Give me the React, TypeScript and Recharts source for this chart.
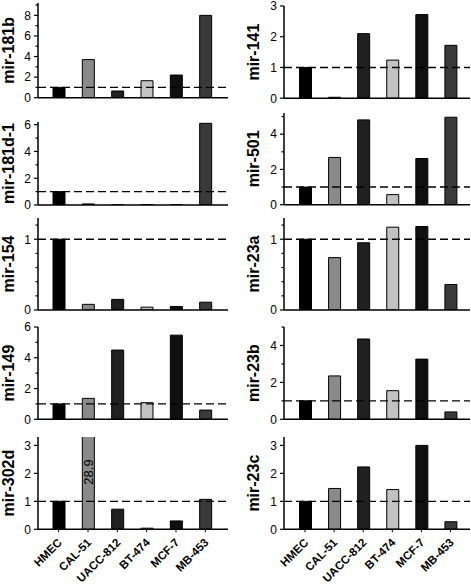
import React from 'react';
import { BarChart, Bar, XAxis, YAxis, Cell, ReferenceLine, LabelList } from 'recharts';

// cell lines, same order in every panel
const CELLS = ['HMEC', 'CAL-51', 'UACC-812', 'BT-474', 'MCF-7', 'MB-453'];

// relative expression
const MIR_181B = [1, 3.7, 0.65, 1.65, 2.2, 8.0];
const MIR_181D1 = [1, 0.08, 0.01, 0.03, 0.03, 6.1];
const MIR_154 = [1, 0.08, 0.15, 0.04, 0.05, 0.11];
const MIR_149 = [1, 1.36, 4.5, 1.08, 5.47, 0.6];
const MIR_302D = [1, 28.9, 0.72, 0.04, 0.3, 1.07];
const MIR_141 = [1, 0.03, 2.1, 1.24, 2.72, 1.72];
const MIR_501 = [1, 2.68, 4.81, 0.57, 2.62, 4.96];
const MIR_23A = [1, 0.74, 0.95, 1.17, 1.18, 0.36];
const MIR_23B = [1, 2.35, 4.35, 1.55, 3.26, 0.4];
const MIR_23C = [1, 1.46, 2.23, 1.42, 3.0, 0.27];

// y axis ticks
const TICKS_0_8 = [0, 2, 4, 6, 8];
const TICKS_0_6 = [0, 2, 4, 6];
const TICKS_0_4 = [0, 2, 4];
const TICKS_0_3 = [0, 1, 2, 3];
const TICKS_0_1 = [0, 1];
const MINOR_ODD = [1, 3, 5, 7, 9];
const MINOR_TENTHS = [0.2, 0.4, 0.6, 0.8, 1.2];

const CELL_COLORS = ['#000000', '#8a8a8a', '#202020', '#c2c2c2', '#101010', '#3a3a3a'];
const FONT = '"Liberation Sans", Arial, sans-serif';
const PAD_TOP = 8; // room above the plot so top tick labels are not clipped

const COLS = [
  { x: 0, width: 229, axisW: 38, plotW: 190, padL: 6, padR: 8, labelX: 8 },
  { x: 240, width: 231, axisW: 44, plotW: 186, padL: 6.5, padR: 5, labelX: 13 },
];

const YLabel = ({ text, cx, cy }: any) => (
  <g transform={`translate(${cx}, ${cy}) rotate(-90)`}>
    <text
      x={0}
      y={0}
      textAnchor="middle"
      dominantBaseline="central"
      fontFamily={FONT}
      fontWeight="bold"
      fontSize={16}
      fill="#000"
    >
      {text}
    </text>
  </g>
);

const makeYTick = (axisX: number, majors: number[]) => (props: any) => {
  const { y, payload } = props;
  const major = majors.includes(payload.value);
  return (
    <g>
      <line x1={axisX - (major ? 4 : 2.5)} x2={axisX} y1={y} y2={y} stroke="#000" strokeWidth={1.2} />
      {major && (
        <text x={axisX - 7} y={y} dy="0.36em" textAnchor="end" fontFamily={FONT} fontSize={12} fill="#000">
          {payload.value}
        </text>
      )}
    </g>
  );
};

const XTick = (props: any) => {
  const { x, y, payload } = props;
  return (
    <g transform={`translate(${x + 4}, ${y + 9}) rotate(-45)`}>
      <text x={0} y={0} textAnchor="end" fontFamily={FONT} fontWeight="bold" fontSize={11.5} fill="#000">
        {payload.value}
      </text>
    </g>
  );
};

interface PanelProps {
  name: string;
  values: number[];
  col: number;
  top: number;
  zero: number;
  max: number;
  ticks: number[];
  minor?: number[];
  bottom?: boolean;
}

const Panel = ({ name, values, col, top, zero, max, ticks, minor = [], bottom = false }: PanelProps) => {
  const c = COLS[col];
  const plotH = zero - top;
  const axisH = bottom ? 587 - zero : 5;
  const data = CELLS.map((cell, i) => ({ cell, value: values[i] }));
  const allTicks = [...ticks, ...minor.filter((m) => m <= max)].sort((a, b) => a - b);

  return (
    <div style={{ position: 'absolute', left: c.x, top: top - PAD_TOP }}>
      <BarChart
        width={c.width}
        height={PAD_TOP + plotH + axisH + (bottom ? 0 : 4)}
        data={data}
        margin={{ top: PAD_TOP, right: c.width - c.axisW - c.plotW, bottom: bottom ? 0 : 4, left: 0 }}
      >
        <XAxis
          dataKey="cell"
          interval={0}
          height={axisH}
          padding={{ left: c.padL, right: c.padR }}
          axisLine={{ stroke: '#000', strokeWidth: 1.5 }}
          tickLine={{ stroke: '#000' }}
          tickSize={3}
          tickMargin={2}
          tick={bottom ? <XTick /> : false}
        />
        <YAxis
          width={c.axisW}
          domain={[0, max]}
          ticks={allTicks}
          interval={0}
          allowDataOverflow
          axisLine={{ stroke: '#000', strokeWidth: 1.5 }}
          tickLine={false}
          tick={makeYTick(c.axisW, ticks)}
          label={<YLabel text={name} cx={c.labelX} cy={PAD_TOP + plotH / 2} />}
        />
        <Bar dataKey="value" barSize={12} stroke="#000" strokeWidth={1} isAnimationActive={false}>
          {data.map((d, i) => (
            <Cell key={d.cell} fill={CELL_COLORS[i]} />
          ))}
          <LabelList
            dataKey="value"
            content={(p: any) => {
              if (!(p.value > max)) return null;
              const lx = p.x + p.width / 2;
              const ly = PAD_TOP + 35;
              return (
                <g transform={`translate(${lx}, ${ly}) rotate(-90)`}>
                  <text
                    x={0}
                    y={0}
                    textAnchor="middle"
                    dominantBaseline="central"
                    fontFamily={FONT}
                    fontSize={13}
                    fill="#000"
                  >
                    {p.value}
                  </text>
                </g>
              );
            }}
          />
        </Bar>
        <ReferenceLine y={1} stroke="#000" strokeWidth={1.4} strokeDasharray="8 4" />
      </BarChart>
    </div>
  );
}

export default function App() {
  return (
    <div style={{ position: 'absolute', left: 0, top: 0, width: 471, height: 587, background: '#fff' }}>
      <Panel name="mir-181b" values={MIR_181B} col={0} top={3} zero={97.7} max={9.2} ticks={TICKS_0_8} minor={MINOR_ODD} />
      <Panel name="mir-181d-1" values={MIR_181D1} col={0} top={122} zero={205} max={6.2} ticks={TICKS_0_6} minor={MINOR_ODD} />
      <Panel name="mir-154" values={MIR_154} col={0} top={218} zero={310} max={1.3} ticks={TICKS_0_1} minor={MINOR_TENTHS} />
      <Panel name="mir-149" values={MIR_149} col={0} top={327} zero={419.3} max={6} ticks={TICKS_0_6} minor={MINOR_ODD} />
      <Panel name="mir-302d" values={MIR_302D} col={0} top={437} zero={529.3} max={3.3} ticks={TICKS_0_3} bottom />

      <Panel name="mir-141" values={MIR_141} col={1} top={5.5} zero={97.7} max={3} ticks={TICKS_0_3} />
      <Panel name="mir-501" values={MIR_501} col={1} top={113.3} zero={205} max={5.2} ticks={TICKS_0_4} minor={MINOR_ODD} />
      <Panel name="mir-23a" values={MIR_23A} col={1} top={218} zero={310} max={1.3} ticks={TICKS_0_1} minor={MINOR_TENTHS} />
      <Panel name="mir-23b" values={MIR_23B} col={1} top={327} zero={419.3} max={5} ticks={TICKS_0_4} minor={MINOR_ODD} />
      <Panel name="mir-23c" values={MIR_23C} col={1} top={437} zero={529.3} max={3.3} ticks={TICKS_0_3} bottom />
    </div>
  );
}
